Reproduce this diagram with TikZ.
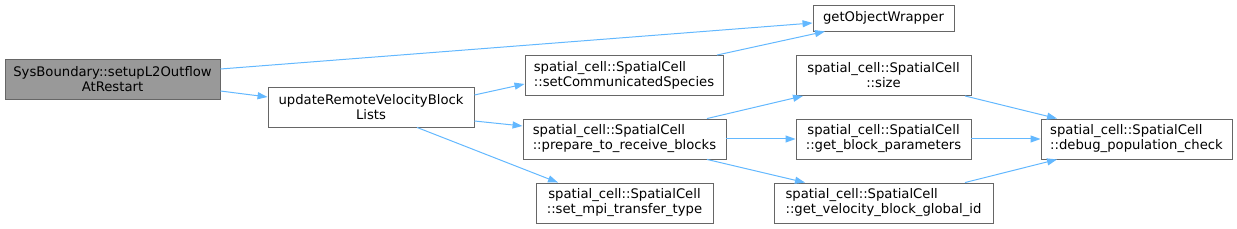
\documentclass[tikz,border=0pt]{standalone}
\usepackage{fontspec}
\setmainfont{DejaVu Sans}
\usetikzlibrary{arrows.meta}
\definecolor{edgeblue}{HTML}{63B8FF}
\definecolor{boxborder}{HTML}{666666}
\definecolor{rootfill}{HTML}{999999}
\tikzset{
  fn/.style={draw=boxborder, line width=0.9pt, rectangle, inner sep=0pt, minimum height=40pt,
    font=\fontsize{13.2}{15}\selectfont, text=black, fill=white},
  root/.style={fn, fill=rootfill},
  call/.style={draw=edgeblue, line width=1pt, -{Triangle[length=10pt,width=7pt]}},
}
\begin{document}
\begin{tikzpicture}[x=1pt,y=-1pt]
\useasboundingbox (0,0) rectangle (1237,229);
\node[root, minimum width=215pt, align=center] (A) at (112.5,79) {SysBoundary::setupL2Outflow\\AtRestart};
\node[fn, minimum width=206pt, align=center] (B) at (371,107) {updateRemoteVelocityBlock\\Lists};
\node[fn, minimum width=141pt, minimum height=26pt] (C) at (883.5,18) {getObjectWrapper};
\node[fn, minimum width=198pt, align=left] (D) at (624,75.5) {spatial\_cell::SpatialCell\\::setCommunicatedSpecies};
\node[fn, minimum width=203pt, align=left] (E) at (624.5,139) {spatial\_cell::SpatialCell\\::prepare\_to\_receive\_blocks};
\node[fn, minimum width=177pt, align=center] (F) at (624.5,203) {spatial\_cell::SpatialCell\\::set\_mpi\_transfer\_type};
\node[fn, minimum width=175pt, align=center] (G) at (883.5,75.5) {spatial\_cell::SpatialCell\\::size};
\node[fn, minimum width=175pt, align=center] (H) at (883.5,139) {spatial\_cell::SpatialCell\\::get\_block\_parameters};
\node[fn, minimum width=219pt, align=left] (I) at (883.5,203) {spatial\_cell::SpatialCell\\::get\_velocity\_block\_global\_id};
\node[fn, minimum width=191pt, align=left] (J) at (1136.5,139) {spatial\_cell::SpatialCell\\::debug\_population\_check};

\draw[call] ([yshift=10pt]A.east) -- ([yshift=-5pt]C.west);
\draw[call] ([yshift=-12pt]A.east) -- ([yshift=10pt]B.west);
\draw[call] ([yshift=12pt]B.east) -- ([yshift=-8.5pt]D.west);
\draw[call] ([yshift=-14pt]B.east) -- ([yshift=13pt]E.west);
\draw[call] ([xshift=46pt]B.south) -- ([xshift=-66.5pt]F.north);
\draw[call] ([xshift=93pt]D.north) -- ([xshift=-58.5pt]C.south);
\draw[call] ([xshift=82.5pt]E.north) -- ([xshift=-80.5pt]G.south);
\draw[call] (E.east) -- (H.west);
\draw[call] ([xshift=82.5pt]E.south) -- ([xshift=-78.5pt]I.north);
\draw[call] ([xshift=81.5pt]G.south) -- ([xshift=-79.5pt]J.north);
\draw[call] (H.east) -- (J.west);
\draw[call] ([xshift=81.5pt]I.north) -- ([xshift=-79.5pt]J.south);
\end{tikzpicture}
\end{document}
